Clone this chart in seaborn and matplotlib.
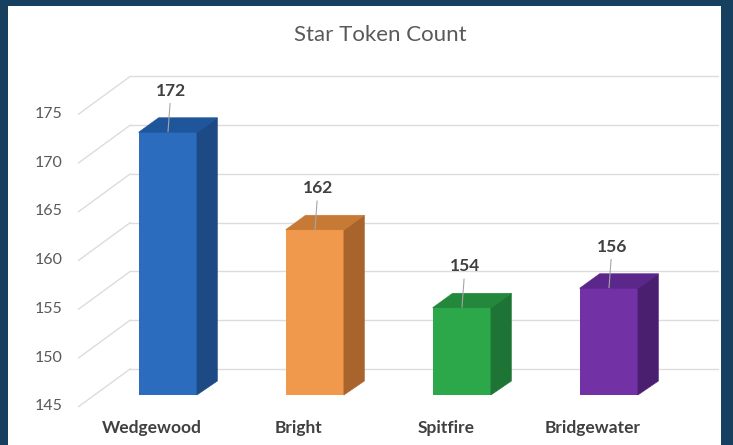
import matplotlib
matplotlib.use("Agg")
import matplotlib.pyplot as plt
import matplotlib.transforms as mtransforms
from matplotlib.patches import Polygon, Rectangle
import seaborn as sns

teams = ["Wedgewood", "Bright", "Spitfire", "Bridgewater"]
tokens = [172, 162, 154, 156]
y_ticks = [145, 150, 155, 160, 165, 170, 175]

front_colors = ["#2b6cbf", "#f0984c", "#2ca84a", "#7232a5"]
top_colors = ["#1f569b", "#c67a36", "#23883c", "#5b278a"]
side_colors = ["#1d4a85", "#a8642c", "#1d7434", "#4b1f70"]

navy = "#173f5f"
grid_c = "#dcdcdc"
text_c = "#595959"
label_c = "#404040"

# fake 3D box, pixel offsets (right, up)
depth = (52, 38)
front_frac = 0.31
bar_depth = (20, 14)
W, H = 733, 445

sns.set_theme(style="white")
plt.rcParams["font.family"] = ["Lato", "DejaVu Sans"]

fig = plt.figure(figsize=(W / 100, H / 100), dpi=100, facecolor=navy)
fig.add_artist(Rectangle((8 / W, 0), 713 / W, 439 / H, transform=fig.transFigure,
                         facecolor="white", edgecolor="none", zorder=0))
ax = fig.add_axes([94.5 / W, 50 / H, 588 / W, 312 / H])
ax.patch.set_alpha(0)

sns.barplot(x=teams, y=tokens, hue=teams, palette=front_colors, width=0.4,
            saturation=1, linewidth=0, legend=False, ax=ax, zorder=3)
ax.set_xlim(-0.5, 3.5)
ax.set_ylim(145, 177)
sns.despine(ax=ax, left=True, bottom=True)
ax.set_xlabel("")
ax.set_ylabel("")

ident = mtransforms.IdentityTransform()
fx, fy = -front_frac * depth[0], -front_frac * depth[1]
bkx, bky = (1 - front_frac) * depth[0], (1 - front_frac) * depth[1]

# back wall gridlines + side diagonals
for t in y_ticks:
    lx, ly = ax.transData.transform((-0.5, t))
    rx, ry = ax.transData.transform((3.5, t))
    ax.plot([lx + bkx, rx + bkx], [ly + bky, ry + bky], color=grid_c, lw=1,
            transform=ident, clip_on=False, zorder=1)
    ax.plot([lx + fx, lx + bkx], [ly + fy, ly + bky], color=grid_c, lw=1,
            transform=ident, clip_on=False, zorder=1)

# side and top faces of each bar
bars = sorted(ax.patches, key=lambda p: p.get_x())
for i, p in enumerate(bars):
    x0, x1 = p.get_x(), p.get_x() + p.get_width()
    bottom = max(p.get_y(), ax.get_ylim()[0])
    top = p.get_y() + p.get_height()
    (ax0, ayb), (ax1, ayt) = ax.transData.transform([(x0, bottom), (x1, top)])
    bx, by = bar_depth
    side = [(ax1 - 0.5, ayb), (ax1 - 0.5, ayt), (ax1 + bx, ayt + by), (ax1 + bx, ayb + by)]
    roof = [(ax0, ayt - 0.5), (ax1, ayt - 0.5), (ax1 + bx, ayt + by), (ax0 + bx, ayt + by)]
    ax.add_patch(Polygon(side, closed=True, facecolor=side_colors[i], edgecolor=side_colors[i],
                         lw=0.4, transform=ident, clip_on=False, zorder=3))
    ax.add_patch(Polygon(roof, closed=True, facecolor=top_colors[i], edgecolor=top_colors[i],
                         lw=0.4, transform=ident, clip_on=False, zorder=3))
    ax.annotate(str(tokens[i]), xy=(p.get_x() + p.get_width() / 2, top),
                xytext=(3, 41), textcoords="offset pixels", ha="center", va="center",
                fontsize=12.5, fontweight="bold", color=label_c, zorder=5,
                arrowprops=dict(arrowstyle="-", color="#a6a6a6", lw=0.8,
                                shrinkA=1, shrinkB=0))

ax.set_yticks(y_ticks)
ax.tick_params(axis="y", length=0, pad=23, labelsize=11.5, labelcolor=text_c)
ax.tick_params(axis="x", length=0, pad=18, labelsize=12.5, labelcolor=label_c)
for lab in ax.get_xticklabels():
    lab.set_fontweight("bold")
    lab.set_transform(lab.get_transform() + mtransforms.Affine2D().translate(fx, 0))
for lab in ax.get_yticklabels():
    lab.set_transform(lab.get_transform() + mtransforms.Affine2D().translate(0, fy + 2))

fig.text(380 / W, 1 - 35 / H, "Star Token Count", ha="center", va="center",
         fontsize=16, color=text_c)

fig.savefig("out.png", dpi=100, facecolor=fig.get_facecolor())
